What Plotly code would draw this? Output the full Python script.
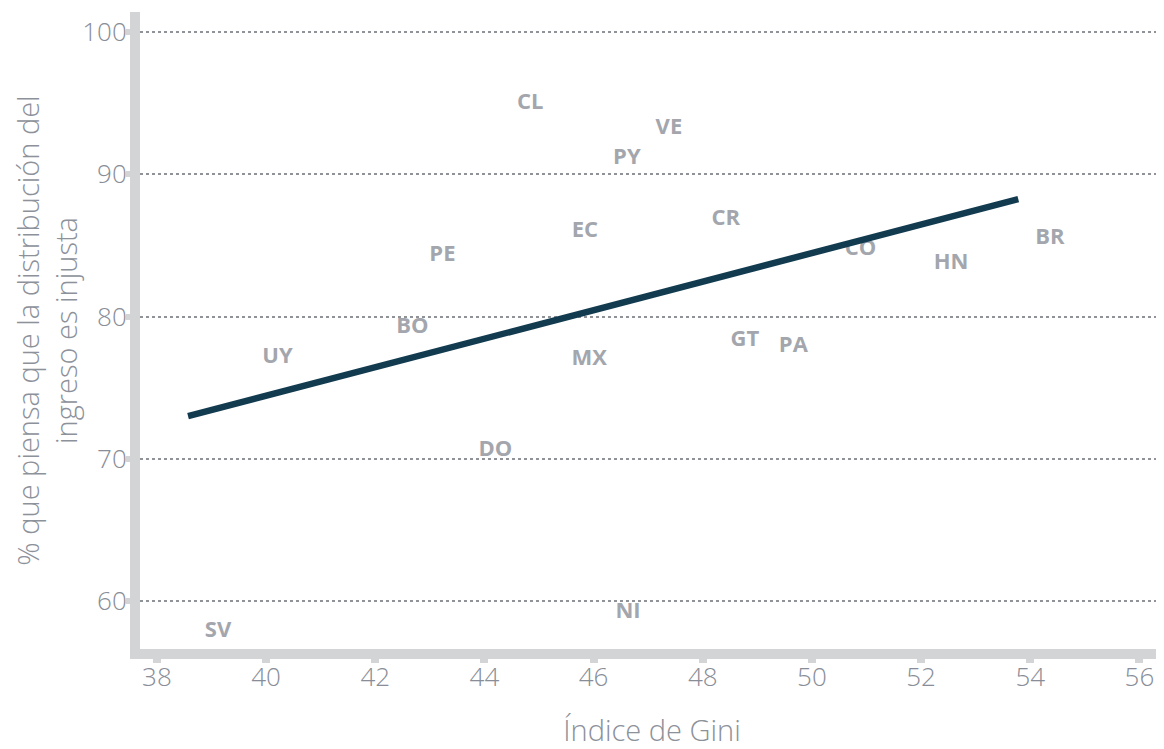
import plotly.graph_objects as go

### DATA

countries = ["CL", "VE", "PY", "EC", "CR", "PE", "CO", "HN", "BR",
             "BO", "UY", "MX", "GT", "PA", "DO", "NI", "SV"]
gini = [44.84, 47.38, 46.61, 45.84, 48.42, 43.23, 50.89, 52.55, 54.36,
        42.68, 40.21, 45.92, 48.77, 49.66, 44.2, 46.63, 39.12]
unfair_pct = [95.0, 93.2, 91.1, 86.0, 86.85, 84.3, 84.7, 83.7, 85.5,
              79.2, 77.1, 77.0, 78.3, 77.9, 70.6, 59.2, 57.9]

# linear fit
fit_x = [38.57, 53.78]
fit_y = [73.0, 88.25]

x_ticks = [38, 40, 42, 44, 46, 48, 50, 52, 54, 56]
y_ticks = [60, 70, 80, 90, 100]

### VISUALISATION

fig = go.Figure()

fig.add_trace(
    go.Scatter(
        x=gini,
        y=unfair_pct,
        mode="text",
        text=countries,
        textposition="middle center",
        textfont=dict(family="Open Sans", size=22, color="#a3a6ad", weight="bold"),
        hoverinfo="skip",
    )
)

fig.add_trace(
    go.Scatter(
        x=fit_x,
        y=fit_y,
        mode="lines",
        line=dict(color="#123b4f", width=6.5),
        hoverinfo="skip",
    )
)

axis_font = dict(family="Open Sans", size=26, color="#888d97", weight=300)
title_font = dict(family="Open Sans", size=29, color="#8c919a", weight=300)

fig.update_xaxes(
    range=[37.69, 56.45],
    tickvals=x_ticks,
    showgrid=False,
    zeroline=False,
    showline=True,
    linecolor="#d3d4d6",
    linewidth=10,
    ticks="outside",
    ticklen=4,
    tickwidth=8,
    tickcolor="#d3d4d6",
    tickfont=axis_font,
    ticklabelstandoff=-8,
    title=dict(text="Índice de Gini", font=title_font, standoff=34),
)

fig.update_yaxes(
    range=[56.64, 101.4],
    tickvals=y_ticks,
    showgrid=True,
    gridcolor="#8f9297",
    gridwidth=2,
    griddash="dot",
    zeroline=False,
    showline=True,
    linecolor="#d3d4d6",
    linewidth=10,
    ticks="outside",
    ticklen=4,
    tickwidth=6,
    tickcolor="#d3d4d6",
    tickfont=axis_font,
    ticklabelstandoff=-6,
    title=dict(
        text="% que piensa que la distribución del<br>ingreso es injusta",
        font=title_font,
        standoff=2,
    ),
)

# page body has an 8px margin, so the figure is shrunk to fit the window
fig.update_layout(
    width=1156,
    height=741,
    margin=dict(l=132, r=0, t=4, b=97),
    plot_bgcolor="white",
    paper_bgcolor="white",
    showlegend=False,
)

fig.write_html("out.html")
